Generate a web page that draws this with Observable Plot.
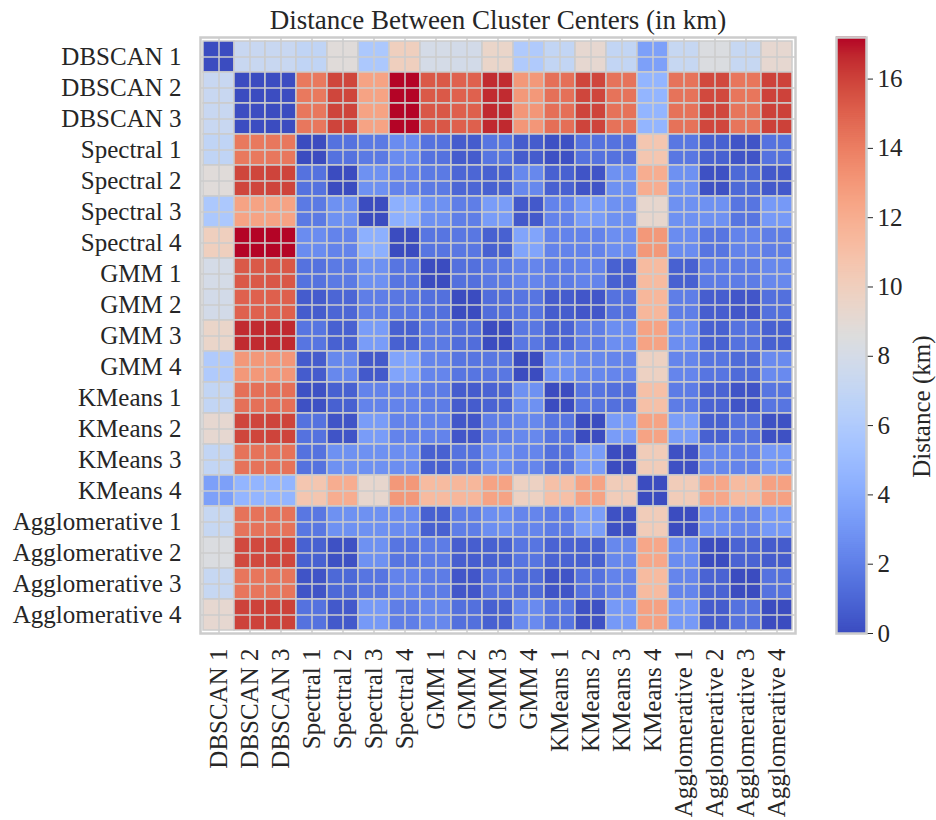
<!DOCTYPE html>
<html>
<head>
<meta charset="utf-8">
<script src="https://cdn.jsdelivr.net/npm/d3@7"></script>
<script src="https://cdn.jsdelivr.net/npm/@observablehq/plot@0.6"></script>
<style>
  body { margin: 0; background: #ffffff; }
  #wrap { position: relative; width: 936px; height: 820px; overflow: hidden; }
  #wrap > svg { position: absolute; top: 0; max-width: none; }
</style>
</head>
<body>
<div id="wrap"></div>
<script>
// ---------- data ----------
const chartTitle = "Distance Between Cluster Centers (in km)";
const colorbarLabel = "Distance (km)";
const labels = [
  "DBSCAN 1", "DBSCAN 2", "DBSCAN 3",
  "Spectral 1", "Spectral 2", "Spectral 3", "Spectral 4",
  "GMM 1", "GMM 2", "GMM 3", "GMM 4",
  "KMeans 1", "KMeans 2", "KMeans 3", "KMeans 4",
  "Agglomerative 1", "Agglomerative 2", "Agglomerative 3", "Agglomerative 4"
];
// one row of distances (km) per cluster, columns in the same order as labels
const distances = [
  [0, 7.3, 7.3, 6.9, 8.8, 5.8, 10.0, 8.0, 7.9, 9.5, 6.0, 7.0, 9.2, 7.0, 3.5, 7.2, 8.4, 7.2, 9.2],
  [7.3, 0, 0.05, 14.2, 15.9, 12.5, 17.2, 15.3, 15.0, 16.6, 13.0, 14.5, 15.9, 14.4, 4.6, 14.4, 15.8, 14.3, 16.0],
  [7.3, 0.05, 0, 14.25, 15.95, 12.5, 17.2, 15.35, 15.05, 16.65, 13.05, 14.55, 15.95, 14.45, 4.6, 14.45, 15.85, 14.35, 16.05],
  [6.9, 14.2, 14.25, 0, 1.5, 1.8, 2.6, 1.5, 0.6, 1.6, 0.6, 0.2, 1.5, 1.5, 10.6, 1.7, 0.8, 0.3, 1.5],
  [8.8, 15.9, 15.95, 1.5, 0, 2.8, 2.2, 1.8, 1.0, 0.8, 2.4, 0.8, 0.3, 2.8, 12.0, 2.8, 0.2, 1.1, 0.5],
  [5.8, 12.5, 12.5, 1.8, 2.8, 0, 4.3, 2.8, 2.0, 3.3, 0.5, 2.2, 3.3, 2.8, 9.3, 2.8, 2.8, 1.6, 3.2],
  [10.0, 17.2, 17.2, 2.6, 2.2, 4.3, 0, 1.6, 1.7, 0.8, 3.7, 2.2, 2.2, 2.7, 13.0, 2.6, 1.6, 2.2, 2.0],
  [8.0, 15.3, 15.35, 1.5, 1.8, 2.8, 1.6, 0, 1.4, 1.8, 2.3, 1.9, 2.2, 0.8, 11.3, 0.8, 1.9, 1.9, 2.4],
  [7.9, 15.0, 15.05, 0.6, 1.0, 2.0, 1.7, 1.4, 0, 1.3, 1.6, 0.6, 0.4, 1.5, 11.5, 2.0, 0.7, 0.4, 1.4],
  [9.5, 16.6, 16.65, 1.6, 0.8, 3.3, 0.8, 1.8, 1.3, 0, 1.7, 0.9, 2.0, 2.7, 12.5, 2.7, 0.8, 1.5, 0.8],
  [6.0, 13.0, 13.05, 0.6, 2.4, 0.5, 3.7, 2.3, 1.6, 1.7, 0, 2.8, 2.4, 2.3, 9.8, 2.3, 1.6, 1.2, 2.5],
  [7.0, 14.5, 14.55, 0.2, 0.8, 2.2, 2.2, 1.9, 0.6, 0.9, 2.8, 0, 1.6, 1.4, 11.0, 1.9, 0.9, 0.3, 1.6],
  [9.2, 15.9, 15.95, 1.5, 0.3, 3.3, 2.2, 2.2, 0.4, 2.0, 2.4, 1.6, 0, 3.3, 12.5, 3.4, 0.8, 1.5, 0.2],
  [7.0, 14.4, 14.45, 1.5, 2.8, 2.8, 2.7, 0.8, 1.5, 2.7, 2.3, 1.4, 3.3, 0, 10.2, 0.2, 2.4, 2.2, 3.2],
  [3.5, 4.6, 4.6, 10.6, 12.0, 9.3, 13.0, 11.3, 11.5, 12.5, 9.8, 11.0, 12.5, 10.2, 0, 10.2, 12.3, 11.3, 12.6],
  [7.2, 14.4, 14.45, 1.7, 2.8, 2.8, 2.6, 0.8, 2.0, 2.7, 2.3, 1.9, 3.4, 0.2, 10.2, 0, 2.6, 2.3, 3.2],
  [8.4, 15.8, 15.85, 0.8, 0.2, 2.8, 1.6, 1.9, 0.7, 0.8, 1.6, 0.9, 0.8, 2.4, 12.3, 2.6, 0, 0.9, 0.6],
  [7.2, 14.3, 14.35, 0.3, 1.1, 1.6, 2.2, 1.9, 0.4, 1.5, 1.2, 0.3, 1.5, 2.2, 11.3, 2.3, 0.9, 0, 1.5],
  [9.2, 16.0, 16.05, 1.5, 0.5, 3.2, 2.0, 2.4, 1.4, 0.8, 2.5, 1.6, 0.2, 3.2, 12.6, 3.2, 0.6, 1.5, 0]
];
const colorbarTicks = [0, 2, 4, 6, 8, 10, 12, 14, 16];

// ---------- coolwarm colormap (Moreland) ----------
const coolwarmStops = [
  "rgb(59,76,192)", "rgb(68,90,204)", "rgb(77,104,215)", "rgb(87,117,225)",
  "rgb(98,130,234)", "rgb(108,142,241)", "rgb(119,154,247)", "rgb(130,165,251)",
  "rgb(141,176,254)", "rgb(152,185,255)", "rgb(163,194,255)", "rgb(174,201,253)",
  "rgb(184,208,249)", "rgb(194,213,244)", "rgb(204,217,238)", "rgb(213,219,230)",
  "rgb(221,221,221)", "rgb(229,216,209)", "rgb(236,211,197)", "rgb(241,204,185)",
  "rgb(245,196,173)", "rgb(247,187,160)", "rgb(247,177,148)", "rgb(247,166,135)",
  "rgb(244,154,123)", "rgb(241,141,111)", "rgb(236,127,99)", "rgb(229,112,88)",
  "rgb(222,96,77)", "rgb(213,80,66)", "rgb(203,62,56)", "rgb(192,40,47)",
  "rgb(180,4,38)"
];
const coolwarm = d3.piecewise(d3.interpolateRgb, coolwarmStops);

// ---------- derived tables ----------
const vmax = d3.max(distances.flat());
const cells = labels.flatMap((row, i) =>
  labels.map((col, j) => ({row, col, value: distances[i][j]}))
);
const stripes = d3.range(300).map(k => ({lo: k * vmax / 300, hi: (k + 1) * vmax / 300}));

const fontFamily = '"Liberation Serif", "Times New Roman", Times, serif';
const gridColor = "#cccccc";
const textColor = "#262626";

// ---------- heatmap ----------
const main = Plot.plot({
  width: 936,
  height: 820,
  marginLeft: 200,
  marginRight: 141,
  marginTop: 37,
  marginBottom: 187,
  style: {fontFamily, fontSize: "25px", color: textColor, background: "transparent", overflow: "visible"},
  x: {domain: labels, padding: 0, tickSize: 0, tickPadding: 15, tickRotate: -90, label: null},
  y: {domain: labels, padding: 0, tickSize: 0, tickPadding: 19, label: null},
  color: {type: "linear", domain: [0, vmax], interpolate: coolwarm},
  marks: [
    Plot.cell(cells, {x: "col", y: "row", fill: "value", stroke: gridColor, strokeWidth: 1.5}),
    Plot.ruleX(labels, {stroke: gridColor, strokeWidth: 1.5}),
    Plot.ruleY(labels, {stroke: gridColor, strokeWidth: 1.5}),
    Plot.frame({stroke: gridColor, strokeWidth: 2.5}),
    Plot.text([chartTitle], {frameAnchor: "top", lineAnchor: "middle", dy: -17, fontSize: 27, fill: textColor})
  ]
});
main.style.left = "0px";
document.getElementById("wrap").appendChild(main);

// ---------- colorbar ----------
const bar = Plot.plot({
  width: 136,
  height: 820,
  marginLeft: 36,
  marginRight: 70,
  marginTop: 37,
  marginBottom: 187,
  style: {fontFamily, fontSize: "25px", color: textColor, background: "transparent", overflow: "visible"},
  x: {domain: [0, 1], axis: null},
  y: {domain: [0, vmax], axis: "right", ticks: colorbarTicks, tickFormat: d3.format("d"), tickSize: 6, tickPadding: 5, label: null},
  color: {type: "linear", domain: [0, vmax], interpolate: coolwarm},
  marks: [
    Plot.rect(stripes, {x1: 0, x2: 1, y1: "lo", y2: "hi", fill: d => (d.lo + d.hi) / 2, insetTop: -0.5, insetBottom: -0.5}),
    Plot.frame({stroke: gridColor, strokeWidth: 2.5}),
    Plot.text([colorbarLabel], {frameAnchor: "right", lineAnchor: "middle", dx: 55, rotate: -90, fontSize: 25, fill: textColor})
  ]
});
bar.style.left = "800px";
document.getElementById("wrap").appendChild(bar);
</script>
</body>
</html>
